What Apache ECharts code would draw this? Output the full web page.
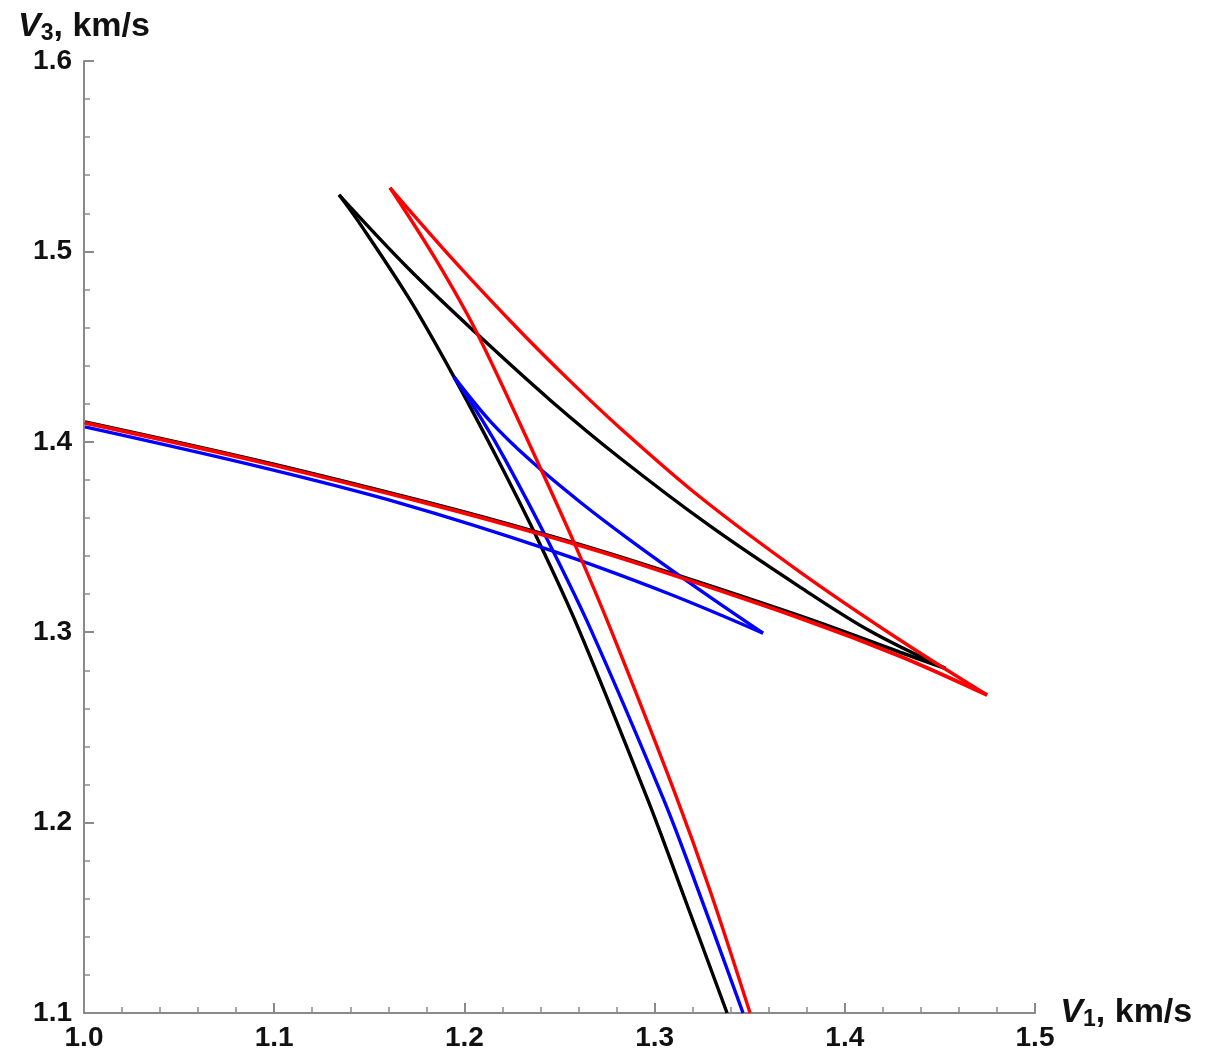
<!DOCTYPE html>
<html>
<head>
<meta charset="utf-8">
<script src="https://cdn.jsdelivr.net/npm/echarts@6/dist/echarts.min.js"></script>
<style>html,body{margin:0;padding:0;background:#fff}#c{width:1212px;height:1054px}</style>
</head>
<body>
<div id="c"></div>
<script>
// Tick labels
const xTicks = [1.0, 1.1, 1.2, 1.3, 1.4, 1.5];
const yTicks = [1.1, 1.2, 1.3, 1.4, 1.5, 1.6];

// Black curve branches [V1, V3]
const blackSteep = [[1.1341,1.5297],[1.1462,1.5129],[1.1714,1.4745],[1.1945,1.4341],[1.2177,1.3904],[1.2387,1.3484],[1.2603,1.3011],[1.2965,1.2118],[1.3123,1.1697],[1.3381,1.1000]];
const blackUpper = [[1.1341,1.5297],[1.1703,1.4913],[1.2066,1.4567],[1.2450,1.4220],[1.2818,1.3915],[1.3291,1.3558],[1.3765,1.3237],[1.4133,1.3006],[1.4527,1.2811]];
const blackLower = [[1.0005,1.4104],[1.0925,1.3899],[1.1819,1.3678],[1.2397,1.3521],[1.2871,1.3379],[1.3765,1.3085],[1.4290,1.2895],[1.4527,1.2811]];

// Blue curve branches
const blueSteep = [[1.1945,1.4341],[1.2093,1.4115],[1.2216,1.3904],[1.2437,1.3484],[1.2666,1.3011],[1.3049,1.2118],[1.3210,1.1697],[1.3465,1.1000]];
const blueUpper = [[1.1945,1.4341],[1.2135,1.4109],[1.2345,1.3904],[1.2608,1.3684],[1.2871,1.3484],[1.3239,1.3221],[1.3570,1.2995]];
const blueLower = [[1.0005,1.4078],[1.0925,1.3868],[1.1661,1.3678],[1.2450,1.3431],[1.3065,1.3206],[1.3570,1.2995]];

// Red curve branches
const redSteep = [[1.1609,1.5334],[1.1851,1.4955],[1.2066,1.4572],[1.2397,1.3868],[1.2587,1.3447],[1.2771,1.3011],[1.3107,1.2155],[1.3291,1.1645],[1.3502,1.1000]];
const redUpper = [[1.1609,1.5334],[1.1951,1.4945],[1.2292,1.4582],[1.2555,1.4320],[1.2818,1.4073],[1.3239,1.3710],[1.3765,1.3316],[1.4290,1.2959],[1.4748,1.2670]];
const redLower = [[1.0005,1.4099],[1.0925,1.3894],[1.1819,1.3673],[1.2397,1.3516],[1.2871,1.3374],[1.3765,1.3074],[1.4290,1.2874],[1.4748,1.2670]];

const chart = echarts.init(document.getElementById('c'));
const FONT = '"Liberation Sans", Arial, sans-serif';
function line(data, color, w) {
  return {type: 'line', data: data, showSymbol: false, symbol: 'none', smooth: 0.35,
    lineStyle: {color: color, width: w}, silent: true, animation: false};
}
function nameRich() {
  return {
    v: {fontFamily: FONT, fontSize: 34, fontWeight: 'bold', fontStyle: 'italic', color: '#111'},
    s: {fontFamily: FONT, fontSize: 23, fontWeight: 'bold', color: '#111', padding: [14, 0, 0, 0]},
    n: {fontFamily: FONT, fontSize: 34, fontWeight: 'bold', color: '#111'}
  };
}
const axisCommon = {
  axisLine: {show: true, onZero: false, lineStyle: {color: '#8a8a8a', width: 2}},
  axisTick: {show: true, inside: true, length: 10, lineStyle: {color: '#8a8a8a', width: 2}},
  minorTick: {show: true, splitNumber: 5, length: 6, lineStyle: {color: '#8a8a8a', width: 1.5}},
  splitLine: {show: false},
  axisLabel: {fontFamily: FONT, fontSize: 28, fontWeight: 'bold', color: '#111',
    formatter: v => Number(v).toFixed(1)}
};
chart.setOption({
  animation: false,
  backgroundColor: '#fff',
  grid: {left: 84, right: 177, top: 61, bottom: 41},
  xAxis: Object.assign({}, axisCommon, {
    type: 'value', min: xTicks[0], max: xTicks[xTicks.length - 1], interval: 0.1,
    name: '{v|V}{s|1}{n|, km/s}', nameLocation: 'end', nameGap: 18,
    nameTextStyle: {rich: nameRich(), verticalAlign: 'middle'},
    axisLabel: Object.assign({}, axisCommon.axisLabel, {margin: 11})
  }),
  yAxis: Object.assign({}, axisCommon, {
    type: 'value', min: yTicks[0], max: yTicks[yTicks.length - 1], interval: 0.1,
    name: '{v|V}{s|3}{n|, km/s}', nameLocation: 'end', nameGap: 16,
    nameTextStyle: {rich: nameRich(), align: 'center'},
    axisLabel: Object.assign({}, axisCommon.axisLabel, {margin: 12})
  }),
  series: [
    line(blackLower, '#000', 3.6),
    line(blackSteep, '#000', 3.4),
    line(blackUpper, '#000', 3.4),
    line(blueSteep, '#0000ff', 3.4),
    line(blueUpper, '#0000ff', 3.4),
    line(blueLower, '#0000ff', 3.4),
    line(redSteep, '#ff0000', 3.4),
    line(redUpper, '#ff0000', 3.4),
    line(redLower, '#ff0000', 3.8)
  ]
});
</script>
</body>
</html>
